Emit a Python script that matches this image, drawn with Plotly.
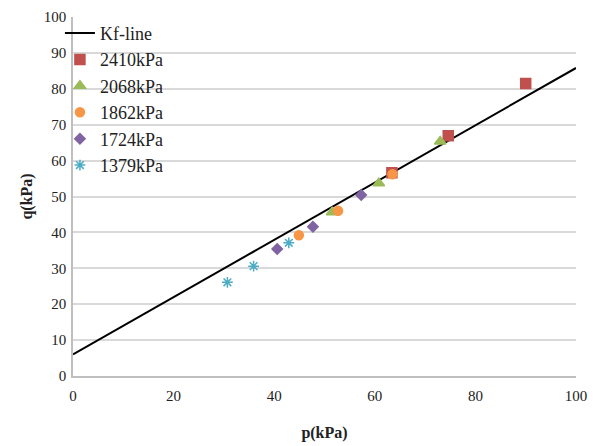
import plotly.graph_objects as go

kf_p = [0, 100]
kf_q = [6, 85.8]

series_names = ["2410kPa", "2068kPa", "1862kPa", "1724kPa", "1379kPa"]
p_2410 = [90.0, 74.6, 63.4]
q_2410 = [81.5, 66.9, 56.6]
p_2068 = [73.0, 60.8, 51.5]
q_2068 = [65.3, 53.7, 45.6]
p_1862 = [63.5, 52.7, 44.9]
q_1862 = [56.2, 46.0, 39.2]
p_1724 = [57.3, 47.7, 40.6]
q_1724 = [50.4, 41.6, 35.4]
p_1379 = [42.9, 35.9, 30.7]
q_1379 = [37.1, 30.6, 26.1]

x_ticks = [0, 20, 40, 60, 80, 100]
y_ticks = [0, 10, 20, 30, 40, 50, 60, 70, 80, 90, 100]

colors = ["#C0504D", "#9BBB59", "#F79646", "#8064A2", "#4BACC6"]
symbols = ["square", "triangle-up", "circle", "diamond", "asterisk-open"]
sizes = [10, 10, 9, 8, 9]

fig = go.Figure()
fig.add_trace(go.Scatter(x=kf_p, y=kf_q, mode="lines", name="Kf-line",
                         line=dict(color="black", width=2)))
data = [(p_2410, q_2410), (p_2068, q_2068), (p_1862, q_1862), (p_1724, q_1724), (p_1379, q_1379)]
for (px, qy), nm, c, s, sz in zip(data, series_names, colors, symbols, sizes):
    fig.add_trace(go.Scatter(x=px, y=qy, mode="markers", name=nm,
                             marker=dict(color=c, symbol=s, size=sz,
                                         line=dict(color=c, width=1.5))))

font = "Liberation Serif, Times New Roman, serif"
fig.update_layout(
    width=601, height=446,
    margin=dict(l=73, r=25, t=17, b=70),
    paper_bgcolor="white", plot_bgcolor="white",
    font=dict(family=font, size=15, color="#222"),
    legend=dict(x=-0.026, y=1.006, xanchor="left", yanchor="top",
                bgcolor="rgba(0,0,0,0)", font=dict(family=font, size=18),
                itemwidth=30, tracegroupgap=0),
    xaxis=dict(range=[0, 100], tickvals=x_ticks, showgrid=False, automargin=False,
               showline=True, linecolor="#BFBFBF", linewidth=1.5, ticks="",
               zeroline=False, ticklabelstandoff=5,
               tickfont=dict(family=font, size=15, color="#222"),
               title=dict(text="<b>p(kPa)</b>", font=dict(family=font, size=16), standoff=24)),
    yaxis=dict(range=[0, 100], tickvals=y_ticks, showgrid=True, gridcolor="#D9D9D9",
               gridwidth=1.5, showline=True, linecolor="#BFBFBF", linewidth=1.5,
               ticks="", zeroline=False, ticklabelstandoff=2, automargin=False,
               tickfont=dict(family=font, size=15, color="#222"),
               title=dict(text="<b>q(kPa)</b>", font=dict(family=font, size=16), standoff=7)),
)
fig.write_html("out.html", config={"displayModeBar": False},
               post_script="document.body.style.margin='0';")
